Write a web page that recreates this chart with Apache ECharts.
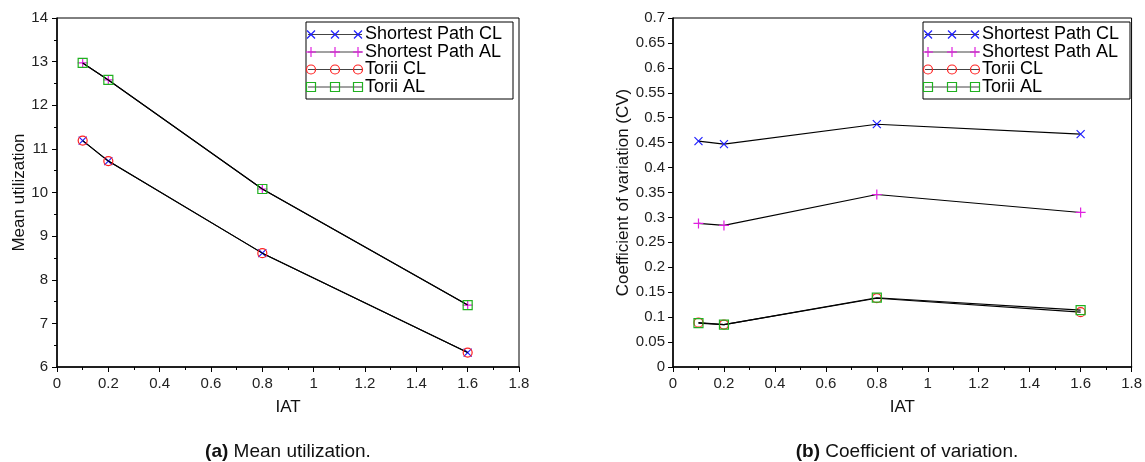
<!DOCTYPE html>
<html><head><meta charset="utf-8">
<script src="https://cdn.jsdelivr.net/npm/echarts@6/dist/echarts.min.js"></script>
<style>html,body{margin:0;padding:0;background:#fff}#c{width:1145px;height:462px}</style>
</head><body><div id="c"></div>
<script>
const iat = [0.1, 0.2, 0.8, 1.6];
const seriesNames = ['Shortest Path CL', 'Shortest Path AL', 'Torii CL', 'Torii AL'];
// (a) Mean utilization
const meanSpCL = [11.19, 10.72, 8.61, 6.33];
const meanSpAL = [12.97, 12.58, 10.08, 7.42];
const meanToriiCL = [11.19, 10.72, 8.61, 6.33];
const meanToriiAL = [12.97, 12.58, 10.08, 7.42];
// (b) Coefficient of variation
const cvSpCL = [0.453, 0.447, 0.487, 0.467];
const cvSpAL = [0.288, 0.284, 0.346, 0.310];
const cvToriiCL = [0.089, 0.085, 0.138, 0.110];
const cvToriiAL = [0.088, 0.085, 0.139, 0.114];
const xTicks = [0, 0.2, 0.4, 0.6, 0.8, 1, 1.2, 1.4, 1.6, 1.8];

const FONT = "'Liberation Sans', Arial, sans-serif";
const colors = ['#1f1fff', '#e020e0', '#ff2020', '#20b020'];
const symX = 'path://M0,0L10,10M10,0L0,10';
const symPlus = 'path://M5,0L5,10M0,5L10,5';
const symbols = [symX, symPlus, 'circle', 'rect'];
const sizes = [8, 10, 9, 9];

const chart = echarts.init(document.getElementById('c'), null, {renderer: 'canvas'});

function mkSeries(idx, data, axisIdx) {
  return {
    name: seriesNames[idx], type: 'line', xAxisIndex: axisIdx, yAxisIndex: axisIdx,
    data: iat.map((x, i) => [x, data[i]]),
    symbol: symbols[idx], symbolSize: sizes[idx], showAllSymbol: true,
    lineStyle: {color: '#000', width: 1.1},
    itemStyle: {color: 'rgba(0,0,0,0)', borderColor: colors[idx], borderWidth: 1.2},
    emphasis: {disabled: true}, animation: false, z: 2 + idx
  };
}

function xAxisDef(gi) {
  return {
    type: 'value', gridIndex: gi, min: 0, max: 1.8, interval: 0.2,
    name: 'IAT', nameLocation: 'middle', nameGap: 32,
    nameTextStyle: {fontFamily: FONT, fontSize: 17, color: '#111'},
    axisLine: {show: true, onZero: false, lineStyle: {color: '#000', width: 1.5}},
    axisTick: {show: true, inside: false, length: 5, lineStyle: {color: '#000'}},
    minorTick: {show: true, splitNumber: 2, length: 3, lineStyle: {color: '#000'}},
    axisLabel: {fontFamily: FONT, fontSize: 15, color: '#222', margin: 9,
      formatter: v => String(+v.toFixed(1))},
    splitLine: {show: false}
  };
}

const option = {
  animation: false,
  backgroundColor: '#fff',
  grid: [
    {left: 57, top: 18, width: 462, height: 349, show: true, borderColor: '#000', borderWidth: 1},
    {left: 673, top: 18, width: 463, height: 349, show: true, borderColor: '#000', borderWidth: 1}
  ],
  xAxis: [xAxisDef(0), xAxisDef(1)],
  yAxis: [
    {type: 'value', gridIndex: 0, min: 6, max: 14, interval: 1,
      name: 'Mean utilization', nameLocation: 'middle', nameGap: 28,
      nameTextStyle: {fontFamily: FONT, fontSize: 17, color: '#111'},
      axisLine: {show: true, lineStyle: {color: '#000', width: 1.5}},
      axisTick: {show: true, length: 5, lineStyle: {color: '#000'}},
      minorTick: {show: true, splitNumber: 2, length: 3, lineStyle: {color: '#000'}},
      axisLabel: {fontFamily: FONT, fontSize: 15, color: '#222', margin: 9},
      splitLine: {show: false}},
    {type: 'value', gridIndex: 1, min: 0, max: 0.7, interval: 0.05,
      name: 'Coefficient of variation (CV)', nameLocation: 'middle', nameGap: 37,
      nameTextStyle: {fontFamily: FONT, fontSize: 17, color: '#111'},
      axisLine: {show: true, lineStyle: {color: '#000', width: 1.5}},
      axisTick: {show: true, length: 5, lineStyle: {color: '#000'}},
      axisLabel: {fontFamily: FONT, fontSize: 15, color: '#222', margin: 8,
        formatter: v => String(+v.toFixed(2))},
      splitLine: {show: false}}
  ],
  series: [
    mkSeries(0, meanSpCL, 0), mkSeries(1, meanSpAL, 0), mkSeries(2, meanToriiCL, 0), mkSeries(3, meanToriiAL, 0),
    mkSeries(0, cvSpCL, 1), mkSeries(1, cvSpAL, 1), mkSeries(2, cvToriiCL, 1), mkSeries(3, cvToriiAL, 1)
  ],
  graphic: []
};

function legendGraphic(bx) {
  const els = [];
  els.push({type: 'rect', shape: {x: bx, y: 22, width: 207, height: 77},
    style: {fill: '#fff', stroke: '#000', lineWidth: 1}, z: 100});
  const rowsY = [34.5, 52, 69.5, 87];
  const mx = [bx + 5, bx + 29, bx + 52];
  seriesNames.forEach((nm, i) => {
    const y = rowsY[i];
    els.push({type: 'line', shape: {x1: bx + 2, y1: y, x2: bx + 56, y2: y},
      style: {stroke: '#444', lineWidth: 1}, z: 101});
    mx.forEach(x => {
      let el;
      const st = {fill: 'none', stroke: colors[i], lineWidth: 1.2};
      if (i === 0) el = {type: 'polyline', shape: {points: [[x - 4, y - 4], [x + 4, y + 4]]}, style: st};
      if (i === 1) el = {type: 'polyline', shape: {points: [[x, y - 5], [x, y + 5]]}, style: st};
      if (i === 2) el = {type: 'circle', shape: {cx: x, cy: y, r: 4.5}, style: st};
      if (i === 3) el = {type: 'rect', shape: {x: x - 4.5, y: y - 4.5, width: 9, height: 9}, style: st};
      el.z = 102;
      els.push(el);
      if (i === 0) els.push({type: 'polyline', shape: {points: [[x + 4, y - 4], [x - 4, y + 4]]}, style: st, z: 102});
      if (i === 1) els.push({type: 'polyline', shape: {points: [[x - 5, y], [x + 5, y]]}, style: st, z: 102});
    });
    els.push({type: 'text', x: bx + 59, y: y, style: {text: nm, fontFamily: FONT, fontSize: 18,
      fill: '#000', verticalAlign: 'middle', textAlign: 'left'}, z: 103});
  });
  return els;
}

const capRich = {b: {fontWeight: 'bold', fontFamily: FONT, fontSize: 19, fill: '#111'}, n: {fontFamily: FONT, fontSize: 19, fill: '#111'}};
option.graphic = [
  ...legendGraphic(306),
  ...legendGraphic(923),
  {type: 'text', x: 288, y: 452, style: {rich: capRich,
    text: '{b|(a)}{n| Mean utilization.}', textAlign: 'center', verticalAlign: 'middle', fontFamily: FONT, fontSize: 19, fill: '#111'}},
  {type: 'text', x: 907, y: 452, style: {rich: capRich,
    text: '{b|(b)}{n| Coefficient of variation.}', textAlign: 'center', verticalAlign: 'middle', fontFamily: FONT, fontSize: 19, fill: '#111'}}
];

chart.setOption(option);
</script>
</body></html>
